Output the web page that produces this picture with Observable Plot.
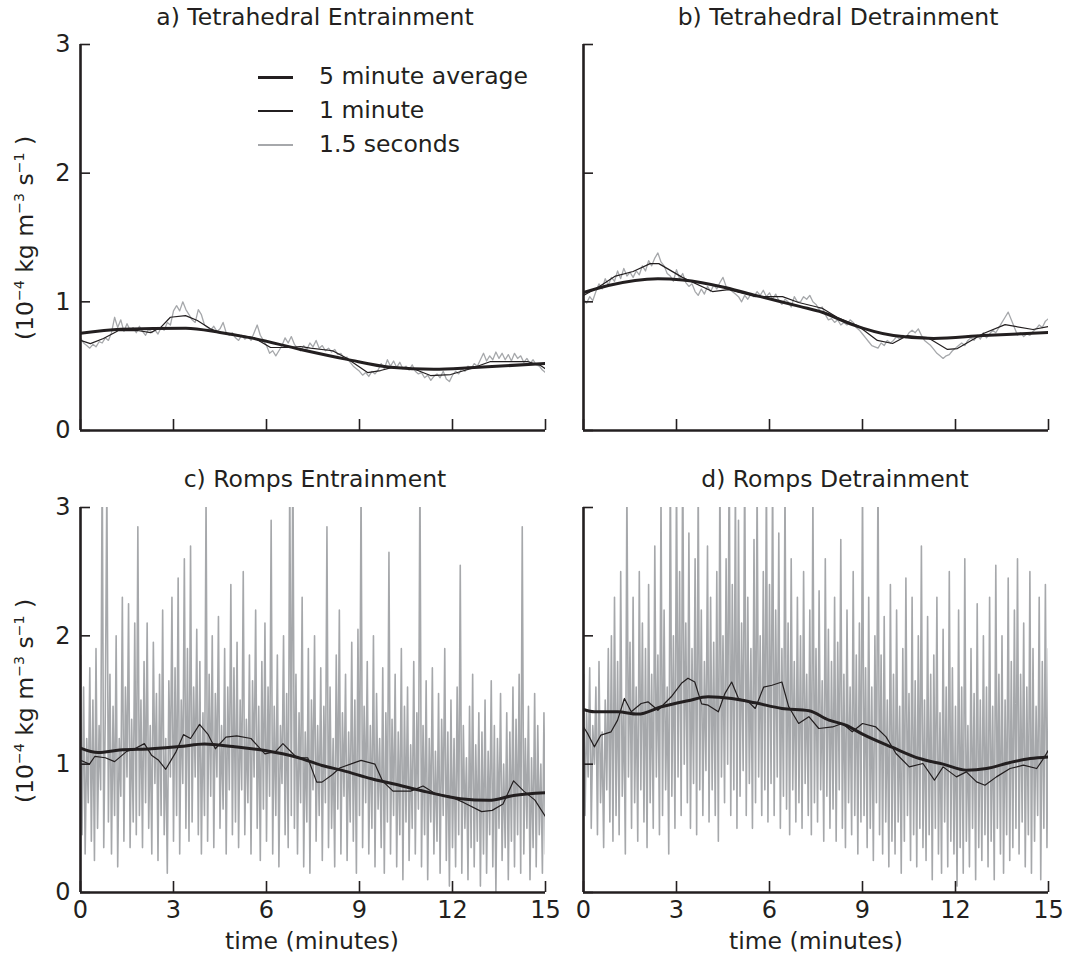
<!DOCTYPE html>
<html>
<head>
<meta charset="utf-8">
<script src="https://cdn.jsdelivr.net/npm/d3@7"></script>
<script src="https://cdn.jsdelivr.net/npm/@observablehq/plot@0.6"></script>
<style>
  html, body { margin: 0; padding: 0; background: #fff; }
  body { font-family: "DejaVu Sans", sans-serif; color: #231f20; }
  #root { position: relative; width: 1067px; height: 959px; overflow: hidden; }
  .panel { position: absolute; }
  .panel svg { overflow: visible; }
  .title, .xlab { position: absolute; font-size: 23.5px; white-space: nowrap; transform: translate(-50%, -50%); line-height: 1; }
  .ylab { position: absolute; font-size: 23.5px; white-space: nowrap; transform: translate(-50%, -50%) rotate(-90deg); line-height: 1; }
  .ylab sup { font-size: 0.6em; vertical-align: 0.65em; line-height: 0; }
  .leg-line { position: absolute; }
  .leg-text { position: absolute; font-size: 23.5px; white-space: nowrap; transform: translateY(-50%); line-height: 1; }
</style>
</head>
<body>
<div id="root"></div>
<script>
// ---------- tick values ----------
const xTicks = [0, 3, 6, 9, 12, 15];
const yTicks = [0, 1, 2, 3];

// ---------- series names ----------
const seriesNames = ["5 minute average", "1 minute", "1.5 seconds"];
const panelTitles = ["a) Tetrahedral Entrainment", "b) Tetrahedral Detrainment", "c) Romps Entrainment", "d) Romps Detrainment"];

// ---------- sample spacing of the gray (high-frequency) series, minutes ----------
const tetraGrayStep = 0.1;
const rompsGrayStep = 0.05;

// ---------- a) Tetrahedral Entrainment ----------
const fiveA_t = [0, 1.3, 3.4, 4.5, 5.5, 7.1, 8.6, 10.0, 11.4, 12.7, 15];
const fiveA_v = [0.755, 0.786, 0.795, 0.762, 0.72, 0.63, 0.553, 0.492, 0.476, 0.49, 0.52];
const oneA_t = [0, 0.32, 0.74, 1.23, 1.84, 2.26, 2.58, 2.9, 3.39, 3.77, 4.19, 4.52, 5.58, 6.13, 6.68, 7.1, 7.42, 8.13, 8.55, 9.26, 9.68, 10.06, 10.74, 11.29, 11.94, 12.58, 13.23, 14.42, 14.84, 15];
const oneA_v = [0.70, 0.675, 0.715, 0.777, 0.777, 0.76, 0.80, 0.88, 0.893, 0.855, 0.79, 0.76, 0.723, 0.645, 0.645, 0.653, 0.64, 0.62, 0.567, 0.45, 0.466, 0.49, 0.48, 0.427, 0.435, 0.48, 0.536, 0.536, 0.505, 0.48];
const grayA = [
  0.72,0.68,0.66,0.64,0.67,0.65,0.69,0.68,0.72,0.70,
  0.76,0.88,0.80,0.86,0.77,0.83,0.78,0.80,0.76,0.81,
  0.77,0.74,0.79,0.76,0.78,0.75,0.80,0.78,0.84,0.82,
  0.93,0.97,0.93,1.00,0.94,0.90,0.86,0.84,0.94,0.90,
  0.82,0.80,0.78,0.81,0.77,0.79,0.84,0.76,0.74,0.76,
  0.72,0.70,0.74,0.71,0.73,0.70,0.76,0.82,0.74,0.70,
  0.66,0.60,0.62,0.58,0.62,0.66,0.72,0.68,0.73,0.67,
  0.64,0.62,0.66,0.63,0.68,0.65,0.70,0.64,0.66,0.62,
  0.64,0.61,0.63,0.59,0.60,0.56,0.57,0.53,0.50,0.48,
  0.46,0.43,0.45,0.42,0.46,0.44,0.47,0.52,0.48,0.55,
  0.50,0.54,0.49,0.53,0.48,0.50,0.47,0.51,0.46,0.44,
  0.45,0.41,0.43,0.39,0.42,0.44,0.41,0.46,0.40,0.38,
  0.43,0.46,0.44,0.48,0.46,0.50,0.48,0.52,0.50,0.55,
  0.60,0.54,0.58,0.55,0.61,0.56,0.60,0.55,0.59,0.54,
  0.60,0.56,0.58,0.53,0.56,0.52,0.55,0.51,0.50,0.47,
  0.45
];

// ---------- b) Tetrahedral Detrainment ----------
const fiveB_t = [0, 0.8, 2.4, 3.2, 4.6, 5.55, 7.0, 7.7, 8.6, 10.0, 11.3, 12.9, 15];
const fiveB_v = [1.072, 1.127, 1.18, 1.17, 1.11, 1.05, 0.963, 0.919, 0.829, 0.738, 0.715, 0.738, 0.762];
const oneB_t = [0, 0.45, 1.03, 1.6, 2.15, 2.43, 3.19, 4.16, 4.68, 5.55, 6.42, 6.94, 7.7, 8.19, 8.84, 9.48, 9.97, 10.45, 11.1, 11.74, 12.06, 12.9, 13.6, 14.5, 15];
const oneB_v = [1.05, 1.11, 1.2, 1.236, 1.297, 1.297, 1.19, 1.08, 1.095, 1.04, 1.04, 0.995, 0.95, 0.878, 0.816, 0.70, 0.676, 0.738, 0.723, 0.63, 0.637, 0.754, 0.823, 0.785, 0.808];
const grayB = [
  1.02,0.99,1.04,1.01,1.08,1.14,1.10,1.18,1.13,1.19,
  1.16,1.24,1.18,1.26,1.20,1.23,1.19,1.24,1.21,1.28,
  1.24,1.32,1.28,1.34,1.38,1.31,1.28,1.22,1.20,1.16,
  1.25,1.18,1.22,1.15,1.12,1.14,1.08,1.05,1.10,1.06,
  1.12,1.08,1.13,1.10,1.15,1.19,1.12,1.10,1.08,1.06,
  1.04,1.00,1.05,1.02,1.06,1.04,1.08,1.05,1.09,1.04,
  1.07,1.02,1.06,1.01,0.98,1.02,1.00,0.96,1.04,1.00,
  1.00,1.04,1.02,1.05,1.00,0.98,0.94,0.96,0.90,0.86,
  0.87,0.84,0.86,0.82,0.84,0.82,0.86,0.84,0.80,0.78,
  0.75,0.72,0.69,0.66,0.65,0.64,0.68,0.66,0.70,0.68,
  0.70,0.73,0.71,0.74,0.72,0.76,0.78,0.76,0.79,0.74,
  0.70,0.68,0.66,0.63,0.60,0.58,0.56,0.58,0.59,0.62,
  0.64,0.66,0.68,0.66,0.70,0.72,0.70,0.74,0.71,0.76,
  0.72,0.75,0.78,0.76,0.80,0.84,0.88,0.92,0.86,0.80,
  0.74,0.76,0.73,0.75,0.74,0.77,0.79,0.82,0.80,0.85,
  0.87
];

// ---------- c) Romps Entrainment ----------
const fiveC_t = [0, 0.57, 1.26, 2.29, 3.2, 4.0, 4.92, 5.95, 6.98, 7.79, 8.47, 9.39, 10.08, 11.2, 12.25, 13.17, 13.97, 15];
const fiveC_v = [1.125, 1.09, 1.11, 1.12, 1.137, 1.158, 1.137, 1.106, 1.054, 0.99, 0.95, 0.886, 0.847, 0.782, 0.731, 0.718, 0.756, 0.777];
const oneC_t = [0, 0.29, 0.46, 0.8, 1.1, 1.49, 1.75, 2.06, 2.29, 2.52, 2.75, 3.09, 3.32, 3.55, 3.84, 4.12, 4.35, 4.69, 5.04, 5.5, 5.95, 6.3, 6.53, 6.98, 7.33, 7.62, 7.79, 8.13, 8.36, 8.82, 9.05, 9.5, 9.74, 10.08, 10.65, 11.05, 11.45, 11.9, 12.37, 12.94, 13.28, 13.63, 13.97, 14.3, 14.66, 15];
const oneC_v = [1.03, 1.0, 1.06, 1.05, 1.02, 1.1, 1.12, 1.16, 1.07, 1.03, 0.96, 1.1, 1.23, 1.2, 1.31, 1.23, 1.12, 1.21, 1.22, 1.2, 1.08, 1.1, 1.16, 1.05, 1.05, 0.86, 0.86, 0.92, 0.97, 1.01, 1.03, 1.0, 0.87, 0.79, 0.79, 0.83, 0.77, 0.75, 0.70, 0.63, 0.64, 0.69, 0.87, 0.79, 0.72, 0.59];
const grayC = [
  1.85,0.45,1.6,0.3,1.2,0.7,1.75,0.4,1.5,0.25,1.9,0.5,1.3,0.8,3.4,0.35,1.4,3.2,0.55,1.7,
  0.3,1.45,0.6,2.0,0.2,1.2,0.75,2.3,0.4,1.6,0.9,2.25,0.35,1.35,0.55,2.1,0.45,2.85,0.6,1.5,
  0.35,1.8,0.7,2.1,0.5,1.3,0.3,1.95,0.85,1.55,0.25,1.7,0.6,2.2,0.45,1.2,0.15,1.65,0.9,2.3,
  0.4,1.75,0.6,2.45,0.3,1.5,0.85,2.6,0.5,1.9,0.4,2.7,0.55,1.6,0.9,2.05,0.45,1.8,0.3,1.4,
  0.6,3.1,0.4,1.7,0.75,2.0,0.35,1.55,0.9,2.15,0.5,1.3,0.65,1.9,0.3,1.6,0.8,2.4,0.45,1.75,
  0.55,1.95,0.35,1.5,0.8,2.5,0.45,1.35,0.7,1.85,0.3,1.65,0.9,2.2,0.5,1.45,0.25,1.8,0.65,2.1,
  0.4,1.6,0.75,2.9,0.3,1.45,0.6,1.85,0.2,1.3,0.85,2.0,0.45,1.55,0.35,3.3,0.6,3.5,0.5,1.7,
  0.3,1.4,0.7,2.3,0.2,1.25,0.55,1.9,0.15,1.5,0.8,2.0,0.4,1.3,0.6,1.75,0.25,1.45,0.7,2.85,
  0.35,1.6,0.5,1.2,0.2,1.85,0.65,2.2,0.3,1.4,0.75,1.7,0.25,1.25,0.55,1.95,0.4,1.5,0.15,2.05,
  0.6,3.2,0.35,1.45,0.7,1.8,0.3,1.3,0.5,2.0,0.2,1.55,0.65,1.2,0.35,1.75,0.15,1.4,0.55,2.65,
  0.3,1.35,0.6,1.7,0.2,1.25,0.45,1.9,0.1,1.45,0.55,1.6,0.25,1.15,0.5,1.8,0.3,1.4,0.65,3.3,
  0.2,1.3,0.45,1.65,0.1,1.2,0.55,1.75,0.3,1.1,0.4,1.55,0.15,1.35,0.6,1.9,0.25,1.25,0.05,1.5,
  0.35,1.2,0.2,1.6,0.45,2.55,0.15,1.3,0.5,1.05,0.1,1.45,0.35,1.7,0.2,1.15,0.4,1.4,0.05,1.25,
  0.3,1.5,0.15,1.1,0.45,1.65,0.2,1.3,0.0,1.2,0.5,1.55,0.25,1.0,0.35,1.4,0.1,1.25,0.4,1.6,
  0.2,1.35,0.45,1.7,0.15,2.85,0.3,1.2,0.5,1.45,0.1,1.05,0.35,1.55,0.2,1.3,0.45,1.0,0.15,1.4,
  0.3
];

// ---------- d) Romps Detrainment ----------
const fiveD_t = [0, 0.35, 1.1, 1.75, 2.51, 3.37, 4.02, 4.78, 5.54, 6.4, 7.27, 7.92, 8.46, 9.0, 9.97, 10.84, 11.6, 12.35, 13.0, 13.76, 14.41, 15];
const fiveD_v = [1.426, 1.408, 1.408, 1.39, 1.447, 1.494, 1.525, 1.512, 1.478, 1.434, 1.416, 1.343, 1.304, 1.234, 1.13, 1.044, 1.0, 0.953, 0.966, 1.013, 1.044, 1.057];
const oneD_t = [0, 0.13, 0.35, 0.56, 0.89, 1.1, 1.32, 1.54, 1.86, 2.08, 2.4, 2.83, 3.16, 3.37, 3.59, 3.81, 4.02, 4.35, 4.56, 4.78, 5.0, 5.32, 5.54, 5.81, 6.08, 6.4, 6.62, 6.94, 7.27, 7.59, 8.03, 8.35, 8.67, 9.0, 9.43, 9.76, 10.08, 10.51, 10.95, 11.32, 11.6, 12.03, 12.35, 12.68, 12.95, 13.32, 13.76, 14.19, 14.62, 14.84, 15];
const oneD_v = [1.29, 1.24, 1.135, 1.226, 1.252, 1.343, 1.512, 1.408, 1.473, 1.486, 1.42, 1.525, 1.63, 1.67, 1.64, 1.47, 1.46, 1.408, 1.55, 1.64, 1.512, 1.486, 1.434, 1.60, 1.615, 1.64, 1.447, 1.317, 1.37, 1.278, 1.29, 1.317, 1.252, 1.317, 1.29, 1.213, 1.083, 0.979, 1.005, 0.875, 0.979, 0.901, 0.94, 0.862, 0.836, 0.901, 0.966, 0.992, 0.966, 1.044, 1.109];
const grayD = [
  1.7,0.6,1.4,0.9,1.75,0.5,1.3,1.0,1.6,0.45,1.8,0.7,1.25,0.35,1.5,0.8,1.9,0.55,2.0,0.4,
  2.3,0.6,1.8,0.45,2.5,0.75,1.5,0.3,3.2,0.9,1.95,0.5,2.3,0.7,1.6,0.4,2.5,0.8,2.1,0.55,
  1.9,0.35,2.4,0.7,1.7,0.5,2.7,0.9,1.85,0.45,3.1,0.6,2.2,0.8,1.6,0.3,3.4,0.75,2.0,0.5,
  3.3,0.9,2.5,0.6,3.5,1.0,2.1,0.7,2.8,0.5,1.9,0.85,2.6,0.45,3.2,0.8,2.2,0.6,1.8,0.95,
  2.7,0.55,2.3,0.8,1.95,0.6,2.5,0.4,3.3,0.9,2.0,0.7,2.6,1.0,3.5,0.6,2.4,0.8,3.2,0.5,
  2.9,0.75,2.1,0.95,3.4,0.6,2.3,0.85,1.9,0.5,2.75,0.7,3.2,0.9,2.0,0.6,2.5,0.8,3.3,0.55,
  2.4,0.85,3.3,0.6,2.2,0.9,2.8,0.5,1.9,0.75,3.2,0.65,2.1,0.45,2.6,0.8,1.8,0.55,2.3,0.7,
  2.0,0.5,2.5,0.85,1.7,0.6,2.2,0.45,3.1,0.7,1.9,0.55,2.35,0.8,1.65,0.4,2.6,0.75,2.05,0.5,
  1.8,0.65,2.3,0.4,1.95,0.8,2.75,0.5,1.7,0.35,2.2,0.7,1.6,0.45,2.5,0.6,1.85,0.3,2.1,0.55,
  3.2,0.6,1.75,0.35,2.3,0.5,1.6,0.25,2.0,0.7,3.3,0.45,1.85,0.3,2.15,0.55,1.5,0.2,2.4,0.4,
  1.7,0.3,2.2,0.55,1.45,0.15,1.9,0.4,2.45,0.6,1.55,0.25,2.3,0.45,1.65,0.2,2.0,0.5,2.7,0.35,
  1.5,0.25,2.15,0.45,1.7,0.1,1.85,0.5,2.3,0.3,1.4,0.15,2.05,0.55,1.6,0.2,2.5,0.4,1.75,0.3,
  1.45,0.05,2.2,0.35,1.6,0.15,2.6,0.4,1.3,0.2,1.9,0.5,1.55,0.1,2.25,0.35,1.5,0.25,2.0,0.45,
  1.6,0.2,2.3,0.4,1.45,0.1,2.55,0.5,1.7,0.3,2.0,0.15,1.5,0.45,2.45,0.25,1.8,0.35,2.2,0.5,
  2.6,0.3,1.7,0.55,2.1,0.2,1.6,0.45,2.5,0.15,1.9,0.4,1.45,0.6,2.3,0.1,1.8,0.5,2.4,0.35,
  1.9
];

// ---------- styles ----------
const INK = "#231f20";
const GRAY = "#a6a8ab";

const root = document.getElementById("root");

function pairs(ts, vs) { return ts.map((t, i) => ({t, v: vs[i]})); }

function makePanel(p) {
  const marks = [
    Plot.lineY(p.gray, {x: (d, i) => i * p.step, y: d => d, stroke: GRAY, strokeWidth: p.grayWidth, clip: true}),
    Plot.line(pairs(p.one_t, p.one_v), {x: "t", y: "v", stroke: INK, strokeWidth: 1.2, clip: true}),
    Plot.line(pairs(p.five_t, p.five_v), {x: "t", y: "v", stroke: INK, strokeWidth: 3, curve: "monotone-x", clip: true}),
    Plot.axisX({ticks: xTicks, tickSize: -11, tickFormat: () => "", strokeWidth: 1.6, stroke: INK, label: null}),
    Plot.axisY({ticks: yTicks, tickSize: -10, tickFormat: () => "", strokeWidth: 1.6, stroke: INK, label: null}),
    Plot.ruleX([0], {stroke: INK, strokeWidth: 2.6}),
    Plot.ruleY([0], {stroke: INK, strokeWidth: 2.6})
  ];
  if (p.showX) marks.push(Plot.axisX({ticks: xTicks, tickSize: 0, tickPadding: 8, tickFormat: d => String(d), fontSize: 24, fill: INK, label: null}));
  if (p.showY) marks.push(Plot.axisY({ticks: yTicks, tickSize: 0, tickPadding: 10, tickFormat: d => String(d), fontSize: 24, fill: INK, label: null}));
  const chart = Plot.plot({
    width: p.width, height: p.height,
    marginLeft: p.mL, marginRight: p.mR, marginTop: p.mT, marginBottom: p.mB,
    x: {domain: [0, 15]},
    y: {domain: [0, 3]},
    style: {fontFamily: "DejaVu Sans", fontSize: "24px", color: INK, background: "transparent", overflow: "visible"},
    marks
  });
  const div = document.createElement("div");
  div.className = "panel";
  div.style.left = p.left + "px";
  div.style.top = p.top + "px";
  div.appendChild(chart);
  root.appendChild(div);
}

makePanel({gray: grayA, step: tetraGrayStep, grayWidth: 1.3, one_t: oneA_t, one_v: oneA_v, five_t: fiveA_t, five_v: fiveA_v,
  left: 0, top: 30, width: 560, height: 410, mL: 80, mR: 15, mT: 14, mB: 10, showX: false, showY: true});
makePanel({gray: grayB, step: tetraGrayStep, grayWidth: 1.3, one_t: oneB_t, one_v: oneB_v, five_t: fiveB_t, five_v: fiveB_v,
  left: 560, top: 30, width: 507, height: 410, mL: 23, mR: 19, mT: 14, mB: 10, showX: false, showY: false});
makePanel({gray: grayC, step: rompsGrayStep, grayWidth: 1.6, one_t: oneC_t, one_v: oneC_v, five_t: fiveC_t, five_v: fiveC_v,
  left: 0, top: 495, width: 560, height: 435, mL: 80, mR: 15, mT: 12, mB: 38, showX: true, showY: true});
makePanel({gray: grayD, step: rompsGrayStep, grayWidth: 1.6, one_t: oneD_t, one_v: oneD_v, five_t: fiveD_t, five_v: fiveD_v,
  left: 560, top: 495, width: 507, height: 435, mL: 23, mR: 19, mT: 12, mB: 38, showX: true, showY: false});

// ---------- titles & labels ----------
function addText(cls, html, x, y) {
  const d = document.createElement("div");
  d.className = cls;
  d.innerHTML = html;
  d.style.left = x + "px";
  d.style.top = y + "px";
  root.appendChild(d);
}
addText("title", panelTitles[0], 315, 18);
addText("title", panelTitles[1], 838, 18);
addText("title", panelTitles[2], 315, 480);
addText("title", panelTitles[3], 835, 480);
addText("xlab", "time (minutes)", 312, 942);
addText("xlab", "time (minutes)", 816, 942);
const yLabel = "(10<sup>−4</sup> kg m<sup>−3</sup> s<sup>−1</sup> )";
addText("ylab", yLabel, 26, 238);
addText("ylab", yLabel, 26, 701);

// ---------- legend (panel a) ----------
const legendStyles = [
  {color: INK, width: 3, y: 77},
  {color: INK, width: 1.2, y: 111},
  {color: GRAY, width: 1.4, y: 145}
];
seriesNames.forEach((name, i) => {
  const s = legendStyles[i];
  const line = document.createElement("div");
  line.className = "leg-line";
  line.style.left = "258px";
  line.style.width = "35px";
  line.style.top = (s.y - s.width / 2) + "px";
  line.style.height = s.width + "px";
  line.style.background = s.color;
  root.appendChild(line);
  const t = document.createElement("div");
  t.className = "leg-text";
  t.textContent = name;
  t.style.left = "319px";
  t.style.top = s.y + "px";
  root.appendChild(t);
});
</script>
</body>
</html>
